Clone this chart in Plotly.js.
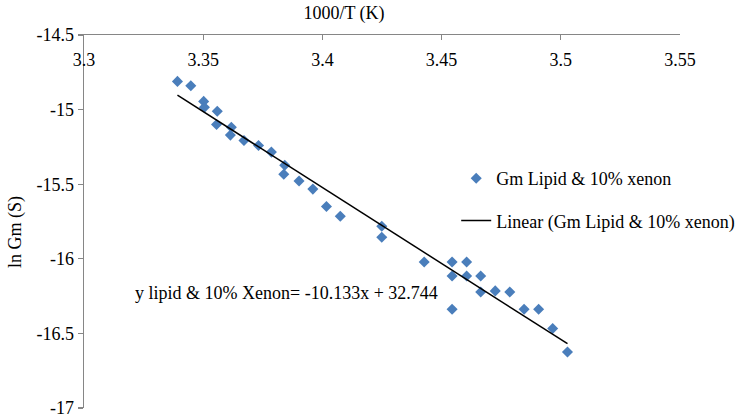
<!DOCTYPE html>
<html>
<head>
<meta charset="utf-8">
<script src="https://cdn.plot.ly/plotly-3.0.1.min.js"></script>
<style>
  html, body { margin: 0; padding: 0; background: #fff; }
  #chart { width: 749px; height: 417px; }
</style>
</head>
<body>
<div id="chart"></div>
<script>
// Inverse temperature (1000/T) and natural log of membrane conductance
const invTemp = [
  3.3392, 3.3448, 3.3502, 3.3505, 3.3559, 3.3556, 3.3618, 3.3614, 3.3671,
  3.3732, 3.3786, 3.3842, 3.3838, 3.3902, 3.3960, 3.4017, 3.4075, 3.4249,
  3.4249, 3.4427, 3.4544, 3.4605, 3.4544, 3.4605, 3.4664, 3.4664, 3.4725,
  3.4786, 3.4544, 3.4846, 3.4907, 3.4966, 3.5028
];
const lnGm = [
  -14.811, -14.840, -14.945, -14.985, -15.011, -15.100, -15.118, -15.171, -15.207,
  -15.240, -15.285, -15.373, -15.433, -15.478, -15.533, -15.649, -15.715, -15.782,
  -15.855, -16.022, -16.022, -16.022, -16.115, -16.115, -16.115, -16.222, -16.215,
  -16.222, -16.338, -16.338, -16.338, -16.467, -16.625
];

const xTickVals = [3.3, 3.35, 3.4, 3.45, 3.5, 3.55];
const xTickText = ['3.3', '3.35', '3.4', '3.45', '3.5', '3.55'];
const yTickVals = [-14.5, -15, -15.5, -16, -16.5, -17];
const yTickText = ['-14.5', '-15', '-15.5', '-16', '-16.5', '-17'];

const seriesName = 'Gm Lipid & 10% xenon';
const fitName = 'Linear (Gm Lipid & 10% xenon)';
const equationText = 'y lipid & 10% Xenon= -10.133x + 32.744';

// Least-squares linear trend through the measured points
function linearFit(xs, ys) {
  const n = xs.length;
  let sx = 0, sy = 0, sxx = 0, sxy = 0;
  for (let i = 0; i < n; i++) {
    sx += xs[i]; sy += ys[i];
    sxx += xs[i] * xs[i]; sxy += xs[i] * ys[i];
  }
  const slope = (n * sxy - sx * sy) / (n * sxx - sx * sx);
  const intercept = (sy - slope * sx) / n;
  return { slope, intercept };
}
const fit = linearFit(invTemp, lnGm);
const xMin = Math.min(...invTemp);
const xMax = Math.max(...invTemp);
const fitX = [xMin, xMax];
const fitY = fitX.map(x => fit.slope * x + fit.intercept);

const serif = "'Liberation Serif', 'Times New Roman', serif";
const axisGray = '#868686';
const txt = { family: serif, size: 18, color: '#000000' };

const W = 749, H = 417;
const M = { l: 84, r: 51, t: 35, b: 9 };
const plotW = W - M.l - M.r, plotH = H - M.t - M.b;

const traces = [
  {
    x: invTemp, y: lnGm,
    type: 'scatter', mode: 'markers',
    name: seriesName, legendgroup: 'a',
    marker: { symbol: 'diamond', size: 8.5, color: '#4A7EBB' },
    cliponaxis: false
  },
  {
    x: fitX, y: fitY,
    type: 'scatter', mode: 'lines',
    name: fitName, legendgroup: 'b',
    line: { color: '#000000', width: 1.5 }
  }
];

const layout = {
  width: W, height: H,
  margin: M,
  paper_bgcolor: '#ffffff', plot_bgcolor: '#ffffff',
  font: txt,
  title: {
    text: '1000/T (K)',
    x: 344 / W, xanchor: 'center', xref: 'container',
    y: 1 - 13 / H, yanchor: 'middle', yref: 'container',
    font: txt
  },
  xaxis: {
    side: 'top',
    range: [3.3, 3.55],
    tickmode: 'array', tickvals: xTickVals, ticktext: xTickText,
    ticks: 'inside', ticklen: 5, tickcolor: axisGray, tickwidth: 1.3,
    ticklabelposition: 'inside', ticklabelstandoff: 14,
    ticklabeloverflow: 'allow',
    showline: true, linecolor: axisGray, linewidth: 1.3,
    showgrid: false, zeroline: false,
    tickfont: txt
  },
  yaxis: {
    range: [-17, -14.5],
    tickmode: 'array', tickvals: yTickVals, ticktext: yTickText,
    ticks: 'outside', ticklen: 5, tickcolor: axisGray, tickwidth: 1.3,
    ticklabeloverflow: 'allow',
    showline: true, linecolor: axisGray, linewidth: 1.3,
    showgrid: false, zeroline: false,
    tickfont: txt
  },
  showlegend: true,
  legend: {
    x: 0.6245, xanchor: 'left',
    y: 1 - (160 - M.t) / plotH, yanchor: 'top',
    traceorder: 'grouped', tracegroupgap: 16,
    bgcolor: 'rgba(0,0,0,0)',
    font: txt
  },
  annotations: [
    {
      text: 'ln Gm (S)', textangle: -90,
      xref: 'paper', yref: 'paper',
      x: (13 - M.l) / plotW, y: (H - M.b - 232) / plotH,
      xanchor: 'center', yanchor: 'middle',
      showarrow: false, font: txt
    },
    {
      text: equationText,
      xref: 'paper', yref: 'paper',
      x: (293 - M.l) / plotW, y: (H - M.b - 293) / plotH,
      xanchor: 'center', yanchor: 'middle',
      showarrow: false, font: txt
    }
  ]
};

Plotly.newPlot('chart', traces, layout, { displayModeBar: false, staticPlot: true });
</script>
</body>
</html>
